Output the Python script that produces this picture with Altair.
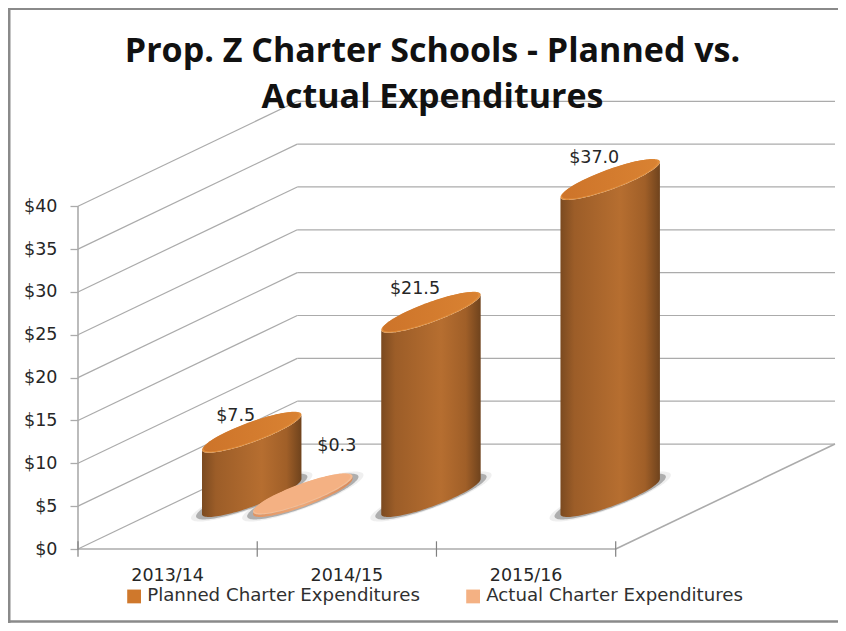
import numpy as np
import pandas as pd
import altair as alt

CATEGORIES = ["2013/14", "2014/15", "2015/16"]
PLANNED = [7.5, 21.5, 37.0]
ACTUAL = [0.3]
TICKS = [0, 5, 10, 15, 20, 25, 30, 35, 40]
SERIES = ["Planned Charter Expenditures", "Actual Charter Expenditures"]
TITLE = ["Prop. Z Charter Schools - Planned vs.", "Actual Expenditures"]
PLANNED_LABELS = ["$7.5", "$21.5", "$37.0"]
ACTUAL_LABELS = ["$0.3"]

# 3-D projection expressed in data units
DX = 1.2235   # category units of shift from front to back of the floor
DY = 12.25    # value units of lift from front to back of the floor
XMAX = 3 + DX
YMAX = 52.4
A, B, C = 0.1415, 0.2386, 2.39   # ellipse half-extents
OFFSET = 0.1425
FONT = "DejaVu Sans"
SIZE = 17.5
LINE = "#ababab"

sx = alt.Scale(domain=[0, XMAX], nice=False, zero=False)
sy = alt.Scale(domain=[0, YMAX], nice=False, zero=False)
y_axis = alt.Axis(
    values=TICKS, format="$.0f", domain=False, grid=False, tickSize=8, tickWidth=1.3,
    tickColor=LINE, labelFont=FONT, labelFontSize=SIZE, labelColor="#262626", labelPadding=13,
)
X = alt.X("x:Q", scale=sx, axis=None)
Y = alt.Y("y:Q", scale=sy, title=None, axis=y_axis)


def chains(scale=1.0):
    a, b = A * scale, B * scale
    e = np.hypot(a, b)
    s = e * np.cos(np.linspace(np.pi, 0, 61))
    qa = (a * a + b * b) / (a * a)
    qb = s * b / (a * a)
    qc = s * s / (a * a) - 1
    root = np.sqrt(np.clip(qb * qb - qa * qc, 0, None))
    return s, (qb - root) / qa, (qb + root) / qa


def ellipse(cx, cy, color, scale=1.0, opacity=1.0):
    s, lo, hi = chains(scale)
    df = pd.DataFrame({"x": cx + s, "y": cy + C * scale * lo, "y2": cy + C * scale * hi})
    return alt.Chart(df).mark_area(color=color, opacity=opacity, orient="vertical").encode(
        x=X, y=Y, y2="y2:Q"
    )


def grad(stops, x2=1, y2=0):
    return alt.LinearGradient(
        gradient="linear",
        stops=[alt.GradientStop(color=c, offset=o) for o, c in stops],
        x1=0, x2=x2, y1=0, y2=y2,
    )


BODY = grad([(0, "#7b4a20"), (0.14, "#9c5d28"), (0.6, "#b66e30"), (0.85, "#a05f28"), (1, "#6f431d")])
BODY2 = grad([(0, "#e09463"), (0.5, "#eda777"), (1, "#d98a5a")])
TOP = grad([(0, "#cd742a"), (1, "#d98232")])


def column(cx, value, body, top, rim, inner_scale=0.96):
    base = DY / 2
    s, lo, _ = chains()
    body_df = pd.DataFrame({"x": cx + s, "y": base + C * lo, "y2": base + value + C * lo})
    layers = [
        ellipse(cx, base, "#666666", 1.22, 0.10),
        ellipse(cx, base, "#444444", 1.12, 0.38),
        alt.Chart(body_df).mark_area(color=body, orient="vertical").encode(x=X, y=Y, y2="y2:Q"),
        ellipse(cx, base + value, rim),
        ellipse(cx - 0.003, base + value + 0.06, top, inner_scale),
    ]
    return layers


def seg(rows, width=1.3, color=LINE):
    df = pd.DataFrame(rows, columns=["x", "y", "x2", "y2"])
    return alt.Chart(df).mark_rule(color=color, strokeWidth=width).encode(x=X, y=Y, x2="x2:Q", y2="y2:Q")


# walls and floor
wall = [(0, v, DX, v + DY) for v in TICKS] + [(DX, v + DY, 3 + DX, v + DY) for v in TICKS]
floor = [(0, 0, 3, 0), (3, 0, 3 + DX, DY), (0, 0, 0, 40)]
xticks = [(i, -0.9, i, 0.9) for i in range(4)]

layers = [seg(wall, 1.2), seg(floor, 1.6), seg(xticks, 1.2, "#808080")]

# planned columns, actual disc (centres sit half way back on the floor)
planned_x = [i + 0.5 - OFFSET + DX / 2 for i in range(3)]
actual_x = 0.5 + OFFSET + DX / 2
for cx, v in zip(planned_x, PLANNED):
    layers += column(cx, v, BODY, TOP, "#e08c3a")
layers += column(actual_x, ACTUAL[0], BODY2, "#f4b183", "#f7bd93", 0.97)


def label(cx, y, text, dx, dy, size=SIZE):
    df = pd.DataFrame({"x": [cx], "y": [y], "t": [text]})
    return alt.Chart(df).mark_text(
        font=FONT, fontSize=size, color="#262626", dx=dx, dy=dy, align="center", baseline="middle"
    ).encode(x=X, y=Y, text="t:N")


for i, v in enumerate(PLANNED):
    layers.append(label(planned_x[i], DY / 2 + v, PLANNED_LABELS[i], -16, [-16, -23, -21][i]))
layers.append(label(actual_x, DY / 2 + ACTUAL[0], ACTUAL_LABELS[0], 34, -48))

for i, c in enumerate(CATEGORIES):
    layers.append(label(i + 0.5, 0, c, 0, 27))

# legend
legend_df = pd.DataFrame({"x": [0.0, 0.0], "y": [0.0, 0.0], "s": SERIES})
layers.append(
    alt.Chart(legend_df).mark_point(opacity=0, filled=True, shape="square").encode(
        x=X, y=Y,
        color=alt.Color(
            "s:N",
            scale=alt.Scale(domain=SERIES, range=["#cf782c", "#f4b183"]),
            legend=alt.Legend(
                title=None, orient="none", direction="horizontal", legendX=47, legendY=487,
                symbolType="square", symbolSize=190, symbolOpacity=1, symbolStrokeWidth=0,
                labelFont=FONT, labelFontSize=18.2, labelColor="#303030", labelLimit=400,
                columnPadding=44, labelOffset=4,
            ),
        ),
    )
)

# frame of the picture
frame = "#8a8a8a"
blank = pd.DataFrame({"a": [0]})
layers.append(alt.Chart(blank).mark_rule(color=frame, strokeWidth=3).encode(
    x=alt.value(-69), y=alt.value(-92), y2=alt.value(523)))
layers.append(alt.Chart(blank).mark_rule(color=frame, strokeWidth=2).encode(
    y=alt.value(-91), x=alt.value(-70), x2=alt.value(760)))
layers.append(alt.Chart(blank).mark_rule(color=frame, strokeWidth=2.5).encode(
    y=alt.value(521.5), x=alt.value(-70), x2=alt.value(760)))

chart = alt.layer(*layers).properties(
    width=757,
    height=449,
    padding={"left": 70, "top": 92, "right": 3, "bottom": 74},
    autosize=alt.AutoSizeParams(type="none"),
    title=alt.TitleParams(
        text=TITLE, anchor="middle", frame="group", font="Open Sans", fontSize=34, fontWeight="bold",
        color="#111111", lineHeight=46, offset=-108, dx=-24,
    ),
).configure_view(stroke=None)

chart.save("out.html", embed_options={"renderer": "svg", "actions": False})
